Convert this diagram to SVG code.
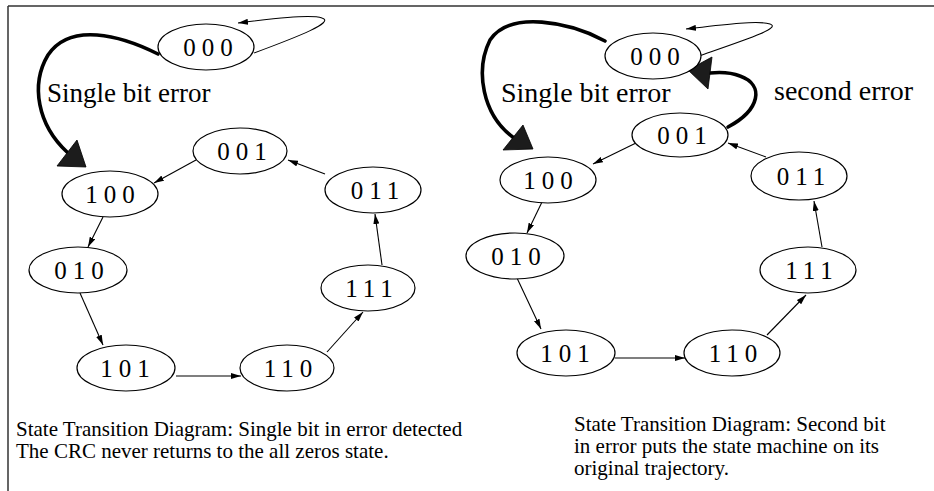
<svg xmlns="http://www.w3.org/2000/svg" width="934" height="491" viewBox="0 0 934 491">
<style>
.n ellipse{fill:#fff;stroke:#000;stroke-width:1.2}
.n text{font-family:"Liberation Serif","Times New Roman",serif;font-size:25px;letter-spacing:6px;text-anchor:middle;fill:#000}
.e{fill:none;stroke:#000;stroke-width:1.1}
.t{fill:none;stroke:#000;stroke-width:3.6;stroke-linecap:round}
.h{fill:#1c1c1c;stroke:#000;stroke-width:0.8}
.lbl{font-family:"Liberation Serif","Times New Roman",serif;fill:#000}
.cap{font-family:"Liberation Serif","Times New Roman",serif;font-size:21px;fill:#000}
</style>
<defs>
<marker id="a" viewBox="0 0 10 6" refX="10" refY="3" markerWidth="10" markerHeight="6" markerUnits="userSpaceOnUse" orient="auto">
<path d="M0,0 L10,3 L0,6 Z" fill="#000"/>
</marker>
</defs>
<rect width="934" height="491" fill="#fff"/>
<path d="M8,6 H934 M8,6 V491" stroke="#333" stroke-width="1.5" fill="none"/>

<g id="connectors">
<!-- left -->
<path class="e" d="M254,53 C300,36 335,22 322,18 C310,14 270,19 238,23" marker-end="url(#a)"/>
<path class="t" d="M158,54 C120,35 70,22 48,55 C30,85 38,125 67,152"/>
<polygon class="h" points="77,140 57,166 86,167"/>
<path class="e" d="M196,160 L154,183" marker-end="url(#a)"/>
<path class="e" d="M325,174 L288,160" marker-end="url(#a)"/>
<path class="e" d="M103,217 L88,247" marker-end="url(#a)"/>
<path class="e" d="M80,293 L103,345" marker-end="url(#a)"/>
<path class="e" d="M176,376 L241,376" marker-end="url(#a)"/>
<path class="e" d="M327,352 L363,312" marker-end="url(#a)"/>
<path class="e" d="M382,265 L375,214" marker-end="url(#a)"/>
<!-- right -->
<path class="e" d="M699,56 C745,40 782,28 770,24 C758,20 720,25 686,29" marker-end="url(#a)"/>
<path class="t" d="M605,41 C570,22 510,10 490,40 C475,70 482,115 514,138"/>
<polygon class="h" points="523,125 503,150 533,149"/>
<path class="t" d="M728,127 C760,110 765,85 740,76 C730,72 720,72 710,73"/>
<polygon class="h" points="712,57 708,89 688,70"/>
<path class="e" d="M636,143 L593,164" marker-end="url(#a)"/>
<path class="e" d="M766,157 L728,143" marker-end="url(#a)"/>
<path class="e" d="M542,202 L527,233" marker-end="url(#a)"/>
<path class="e" d="M517,278 L541,329" marker-end="url(#a)"/>
<path class="e" d="M615,358 L685,358" marker-end="url(#a)"/>
<path class="e" d="M767,335 L806,295" marker-end="url(#a)"/>
<path class="e" d="M822,247 L814,201" marker-end="url(#a)"/>
</g>

<g id="L000" class="n"><ellipse cx="206" cy="47" rx="48" ry="23"/><text x="211" y="56">000</text></g>
<g id="L001" class="n"><ellipse cx="240" cy="151" rx="47" ry="23"/><text x="245" y="160">001</text></g>
<g id="L100" class="n"><ellipse cx="110" cy="194" rx="48" ry="23"/><text x="113" y="203">100</text></g>
<g id="L011" class="n"><ellipse cx="373" cy="190" rx="48" ry="23"/><text x="378" y="199">011</text></g>
<g id="L010" class="n"><ellipse cx="78" cy="270" rx="49" ry="23"/><text x="82" y="279">010</text></g>
<g id="L111" class="n"><ellipse cx="368" cy="288" rx="47" ry="23"/><text x="372" y="297">111</text></g>
<g id="L101" class="n"><ellipse cx="126" cy="368" rx="49" ry="23"/><text x="128" y="377">101</text></g>
<g id="L110" class="n"><ellipse cx="287" cy="368" rx="47" ry="23"/><text x="291" y="377">110</text></g>

<g id="R000" class="n"><ellipse cx="653" cy="56" rx="48" ry="23"/><text x="658" y="65">000</text></g>
<g id="R001" class="n"><ellipse cx="680" cy="135" rx="48" ry="22"/><text x="685" y="144">001</text></g>
<g id="R100" class="n"><ellipse cx="548" cy="180" rx="48" ry="23"/><text x="551" y="189">100</text></g>
<g id="R011" class="n"><ellipse cx="799" cy="176" rx="48" ry="24"/><text x="804" y="185">011</text></g>
<g id="R010" class="n"><ellipse cx="515" cy="256" rx="49" ry="23"/><text x="519" y="265">010</text></g>
<g id="R111" class="n"><ellipse cx="808" cy="270" rx="48" ry="23"/><text x="812" y="279">111</text></g>
<g id="R101" class="n"><ellipse cx="566" cy="353" rx="49" ry="23"/><text x="568" y="362">101</text></g>
<g id="R110" class="n"><ellipse cx="732" cy="353" rx="48" ry="23"/><text x="736" y="362">110</text></g>

<g id="labels">
<text class="lbl" x="47" y="102" font-size="27">Single bit error</text>
<text class="lbl" x="501" y="102" font-size="28">Single bit error</text>
<text class="lbl" x="774" y="100" font-size="28">second error</text>
<text class="cap" x="16" y="436">State Transition Diagram: Single bit in error detected</text>
<text class="cap" x="16" y="458">The CRC never returns to the all zeros state.</text>
<text class="cap" x="574" y="431" font-size="22">State Transition Diagram: Second bit</text>
<text class="cap" x="574" y="453" font-size="22">in error puts the state machine on its</text>
<text class="cap" x="574" y="475" font-size="22">original trajectory.</text>
</g>
</svg>
